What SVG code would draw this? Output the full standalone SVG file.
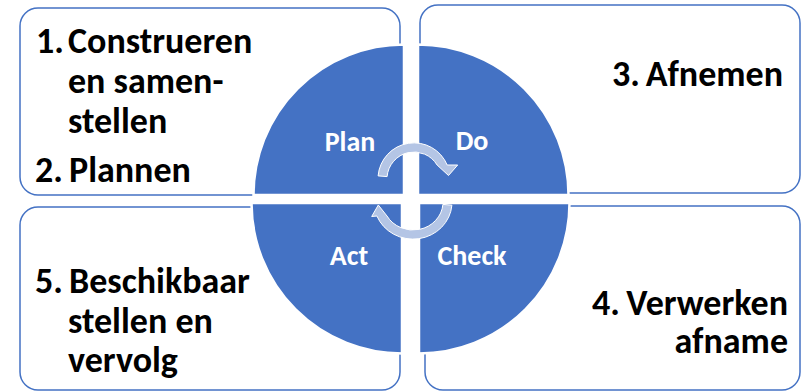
<svg xmlns="http://www.w3.org/2000/svg" width="804" height="391" viewBox="0 0 804 391">
  <style>
    .box { fill: #ffffff; stroke: #4472C4; stroke-width: 1.5; }
    .q { fill: #4472C4; stroke: #ffffff; stroke-width: 2.5; }
    .arr { fill: #B4C5E5; stroke: #ffffff; stroke-width: 1; }
    .t { font-family: Carlito, Lato, "Liberation Sans", sans-serif; font-weight: 700; font-size: 36px; fill: #000000; }
    .r { text-anchor: end; }
    .ql { font-family: Carlito, Lato, "Liberation Sans", sans-serif; font-weight: 700; font-size: 28px; fill: #ffffff; text-anchor: middle; }
  </style>
  <rect width="804" height="391" fill="#ffffff"/>

  <g id="box-plan">
    <rect class="box" x="20" y="8" width="380" height="187" rx="18"/>
    <text class="t" x="36" y="53">1.</text>
    <text class="t" x="68" y="53">Construeren</text>
    <text class="t" x="68" y="93">en samen-</text>
    <text class="t" x="68" y="133">stellen</text>
    <text class="t" x="35" y="182">2.</text>
    <text class="t" x="69" y="182">Plannen</text>
  </g>

  <g id="box-do">
    <rect class="box" x="420" y="5" width="380" height="188" rx="18"/>
    <text class="t" x="612" y="86">3.</text>
    <text class="t r" x="783" y="86">Afnemen</text>
  </g>

  <g id="box-act">
    <rect class="box" x="20" y="207" width="380" height="183" rx="18"/>
    <text class="t" x="35" y="293">5.</text>
    <text class="t" x="69" y="293">Beschikbaar</text>
    <text class="t" x="68" y="333">stellen en</text>
    <text class="t" x="68" y="372">vervolg</text>
  </g>

  <g id="box-check">
    <rect class="box" x="425" y="206" width="375" height="184" rx="18"/>
    <text class="t" x="592" y="315">4.</text>
    <text class="t r" x="788" y="315">Verwerken</text>
    <text class="t r" x="788" y="353">afname</text>
  </g>

  <g id="quadrant-plan">
    <path class="q" d="M404,195 H253.5 A150.5 150.5 0 0 1 404,44.5 Z"/>
    <text class="ql" x="350" y="151">Plan</text>
  </g>
  <g id="quadrant-do">
    <path class="q" d="M418,195 V44.5 A150.5 150.5 0 0 1 568.5,195 Z"/>
    <text class="ql" x="472" y="150">Do</text>
  </g>
  <g id="quadrant-act">
    <path class="q" d="M402,203 V353.5 A150.5 150.5 0 0 1 251.5,203 Z"/>
    <text class="ql" x="349" y="265">Act</text>
  </g>
  <g id="quadrant-check">
    <path class="q" d="M419,203 H569.5 A150.5 150.5 0 0 1 419,353.5 Z"/>
    <text class="ql" x="472" y="265">Check</text>
  </g>

  <g id="connectors">
    <path class="arr" d="M378.1,175.9 A36 36 0 0 1 447.2,165 L457.7,165 L448.5,175.5 L437.1,165 A27 27 0 0 0 387.1,176.6 Z"/>
    <path class="arr" d="M451.9,205.2 A39 37 0 0 1 376.9,216 L371.7,216.5 L378.3,205 L387,216 A30 28 0 0 0 442.9,204.4 Z"/>
  </g>
</svg>
